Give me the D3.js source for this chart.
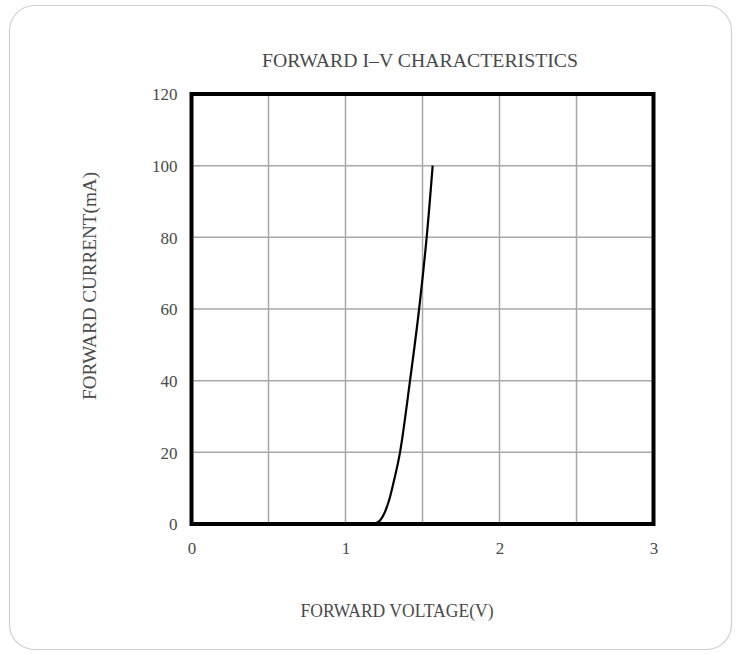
<!DOCTYPE html>
<html><head><meta charset="utf-8">
<script src="https://cdn.jsdelivr.net/npm/d3@7"></script>
<style>html,body{margin:0;padding:0;background:#fff;}svg{display:block;}</style>
</head><body>
<svg id="c" width="741" height="654"></svg>
<script>
const voltage = [1.10, 1.19, 1.22, 1.25, 1.28, 1.31, 1.354, 1.419, 1.478, 1.527, 1.566];
const current = [0, 0.1, 0.8, 2.8, 6.2, 11.2, 20, 40, 60, 80, 100];
const xTicks = [0, 1, 2, 3];
const yTicks = [0, 20, 40, 60, 80, 100, 120];
const xGrid = [0.5, 1, 1.5, 2, 2.5];
const yGrid = [20, 40, 60, 80, 100];
const title = "FORWARD I–V CHARACTERISTICS";
const xLabel = "FORWARD VOLTAGE(V)";
const yLabel = "FORWARD CURRENT(mA)";

const svg = d3.select("#c");
const font = "'Liberation Serif','DejaVu Serif',serif";
const textColor = "#4a4a4a";

svg.append("rect").attr("x", 9.5).attr("y", 5.5).attr("width", 722).attr("height", 644)
  .attr("rx", 25).attr("fill", "#fff").attr("stroke", "#d0d0d0").attr("stroke-width", 1.2);

const L = 191.5, R = 653.5, T = 94, B = 524;
const x = d3.scaleLinear().domain([0, 3]).range([L, R]);
const y = d3.scaleLinear().domain([0, 120]).range([B, T]);

const g = svg.append("g");
g.selectAll("line.vx").data(xGrid).join("line")
  .attr("x1", d => x(d)).attr("x2", d => x(d)).attr("y1", T).attr("y2", B)
  .attr("stroke", "#a8a8a8").attr("stroke-width", 1.5);
g.selectAll("line.hy").data(yGrid).join("line")
  .attr("y1", d => y(d)).attr("y2", d => y(d)).attr("x1", L).attr("x2", R)
  .attr("stroke", "#a8a8a8").attr("stroke-width", 1.5);

const pts = voltage.map((v, i) => [v, current[i]]);
g.append("path").datum(pts)
  .attr("d", d3.line().x(d => x(d[0])).y(d => y(d[1])).curve(d3.curveCatmullRom.alpha(0.5)))
  .attr("fill", "none").attr("stroke", "#000").attr("stroke-width", 2.2);

g.append("rect").attr("x", L).attr("y", T).attr("width", R - L).attr("height", B - T)
  .attr("fill", "none").attr("stroke", "#000").attr("stroke-width", 4);

const xAxis = d3.axisBottom(x).tickValues(xTicks).tickSize(0).tickPadding(0).tickFormat(d3.format("d"));
const ax = svg.append("g").attr("transform", `translate(0,${B})`).call(xAxis);
ax.select(".domain").remove();
ax.selectAll("text").attr("y", 30).attr("dy", 0).attr("font-family", font).attr("font-size", 17).attr("fill", textColor);

const yAxis = d3.axisLeft(y).tickValues(yTicks).tickSize(0).tickPadding(0).tickFormat(d3.format("d"));
const ay = svg.append("g").attr("transform", `translate(${L - 14},0)`).call(yAxis);
ay.select(".domain").remove();
ay.selectAll("text").attr("dy", "0.35em").attr("font-family", font).attr("font-size", 17).attr("fill", textColor);

svg.append("text").attr("x", 420).attr("y", 67).attr("text-anchor", "middle")
  .attr("font-family", font).attr("font-size", 18).attr("fill", textColor)
  .attr("textLength", 316).attr("lengthAdjust", "spacingAndGlyphs").text(title);
svg.append("text").attr("x", 397).attr("y", 617).attr("text-anchor", "middle")
  .attr("font-family", font).attr("font-size", 18).attr("fill", textColor)
  .attr("textLength", 193).attr("lengthAdjust", "spacingAndGlyphs").text(xLabel);
svg.append("text").attr("transform", "translate(96,286) rotate(-90)").attr("text-anchor", "middle")
  .attr("font-family", font).attr("font-size", 18).attr("fill", textColor)
  .attr("textLength", 228).attr("lengthAdjust", "spacingAndGlyphs").text(yLabel);
</script>
</body></html>
